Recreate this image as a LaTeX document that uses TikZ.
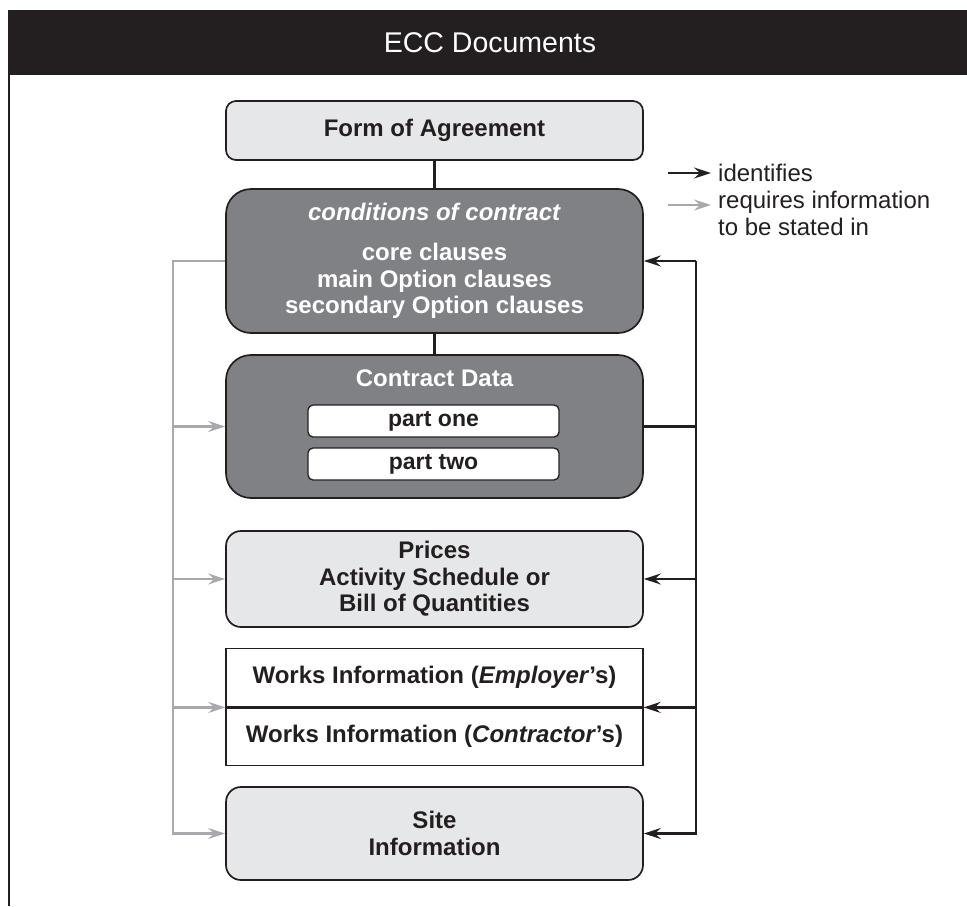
\documentclass[tikz,border=0pt]{standalone}
\usepackage{fontspec}
\setmainfont{Liberation Sans}
\usetikzlibrary{arrows.meta}
\definecolor{ink}{HTML}{231F20}
\definecolor{lightbox}{HTML}{E6E7E8}
\definecolor{darkbox}{HTML}{808185}
\definecolor{conn}{HTML}{A7A9AC}
\begin{document}
\begin{tikzpicture}[x=1pt,y=-1pt,
  tip/.style={-{Stealth[length=17pt,width=11pt,inset=6pt]}},
  blk/.style={draw=ink, line width=2.3pt},
  gline/.style={draw=conn, line width=2.3pt},
  box/.style={draw=ink, line width=1.7pt, minimum width=417pt, inner sep=0pt, align=center,
              font=\fontsize{24}{26.5}\selectfont\bfseries},
  lbox/.style={box, fill=lightbox, text=ink},
  dbox/.style={box, fill=darkbox, text=white},
  wbox/.style={box, fill=white, text=ink, line width=1.3pt, minimum height=58.5pt, rounded corners=0pt},
  partbox/.style={draw=ink, fill=white, rounded corners=5pt, minimum width=251pt, minimum height=32pt,
              line width=1.3pt, inner sep=0pt, font=\fontsize{23}{26}\selectfont\bfseries, text=ink},
  legendtxt/.style={font=\fontsize{24}{27}\selectfont, text=ink, align=left, inner sep=0pt, anchor=west}
]
\useasboundingbox (0,0) rectangle (967,906);
% header
\fill[ink] (8,10) rectangle (967,75);
\node[text=white, font=\fontsize{28.5}{32}\selectfont, inner sep=0pt] (title) at (490,43) {ECC Documents};
\draw[ink, line width=2.3pt] (9,75) -- (9,906);

% boxes
\node[lbox, rounded corners=10pt, minimum height=59pt] (form) at (434.5,130.5) {Form of Agreement};
\node[dbox, rounded corners=25pt, minimum height=144pt] (cond) at (434.5,261)
  {\textit{conditions of contract}\\[14pt] core clauses\\main Option clauses\\secondary Option clauses};
\node[dbox, rounded corners=25pt, minimum height=143pt] (cd) at (434.5,426.5) {};
\node[text=white, font=\fontsize{24}{26.5}\selectfont\bfseries, inner sep=0pt] (cdt) at (434.5,378) {Contract Data};
\node[partbox] (p1) at (433.5,421) {part one};
\node[partbox] (p2) at (433.5,464) {part two};
\node[lbox, rounded corners=15pt, minimum height=96pt] (prices) at (434.5,579)
  {Prices\\Activity Schedule or\\Bill of Quantities};
\node[wbox] (wemp) at (434.5,677.5) {Works Information (\textit{Employer}’s)};
\node[wbox] (wcon) at (434.5,736) {Works Information (\textit{Contractor}’s)};
\draw[ink, line width=2.3pt] (wemp.south west) -- (wemp.south east);
\node[lbox, rounded corners=15pt, minimum height=93pt] (site) at (434.5,833.5) {Site\\Information};

% vertical links
\draw[blk] (form) -- (cond);
\draw[blk] (cond) -- (cd);

% left grey connectors
\coordinate (lx) at (173,0);
\draw[gline, tip] (cond.west) -- (lx |- cond.west) -- (lx |- site.west) -- (site.west);
\draw[gline, tip] (lx |- cd.west) -- (cd.west);
\draw[gline, tip] (lx |- prices.west) -- (prices.west);
\draw[gline, tip] (lx |- wemp.south west) -- (wemp.south west);

% right black connectors
\coordinate (rx) at (696,0);
\draw[blk] (cd.east) -- (rx |- cd.east);
\draw[blk, tip] (rx |- cond.east) -- (cond.east);
\draw[blk, tip] (rx |- cond.east) -- (rx |- site.east) -- (site.east);
\draw[blk, tip] (rx |- prices.east) -- (prices.east);
\draw[blk, tip] (rx |- wemp.south east) -- (wemp.south east);

% legend
\coordinate (la1) at (668,173);
\coordinate (lb1) at (711,173);
\coordinate (la2) at (668,205);
\coordinate (lb2) at (711,205);
\draw[blk, tip] (la1) -- (lb1);
\draw[gline, tip] (la2) -- (lb2);
\node[legendtxt] (lt1) at (718,173) {identifies};
\node[legendtxt, anchor=north west] (lt2) at (718,191) {requires information\\to be stated in};
\end{tikzpicture}
\end{document}
